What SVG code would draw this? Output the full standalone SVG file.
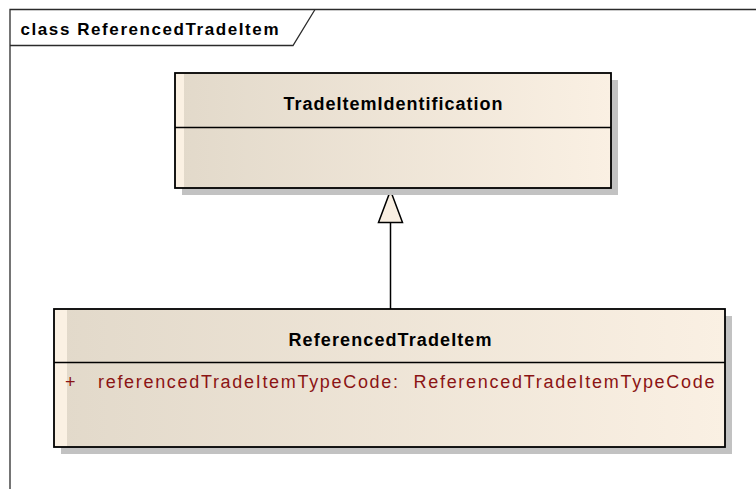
<svg xmlns="http://www.w3.org/2000/svg" width="756" height="489" viewBox="0 0 756 489">
  <defs>
    <linearGradient id="fillGrad" x1="0" y1="0" x2="1" y2="0">
      <stop offset="0" stop-color="#E2D9CA"/>
      <stop offset="1" stop-color="#FAF0E3"/>
    </linearGradient>
  </defs>
  <style>
    .frame { fill: none; stroke: #2b2b2b; stroke-width: 1.3; }
    .shadow { fill: #C2C2C2; }
    .box { fill: url(#fillGrad); }
    .strip { fill: #FBF1E3; }
    .outline { fill: none; stroke: #000; stroke-width: 1.8; }
    .sep { stroke: #000; stroke-width: 1.5; }
    .name { font-family: "Liberation Sans", Arial, sans-serif; font-weight: bold; font-size: 18px; fill: #000; }
    .attr { font-family: "Liberation Sans", Arial, sans-serif; font-size: 18px; fill: #8B1414; }
    .title { font-family: "Liberation Sans", Arial, sans-serif; font-weight: bold; font-size: 17px; fill: #000; }
    .edge { fill: none; stroke: #000; stroke-width: 1.5; }
    .head { fill: #F9EFE2; stroke: #000; stroke-width: 1.5; stroke-linejoin: miter; }
  </style>
  <rect width="756" height="489" fill="#fff"/>

  <g id="frame">
    <path class="frame" d="M10 495 L10 9.5 L760 9.5"/>
    <path class="frame" d="M10 45.5 L293 45.5 L315 9.5"/>
    <text class="title" x="20.5" y="35" textLength="258" lengthAdjust="spacing">class ReferencedTradeItem</text>
  </g>

  <g id="connectors">
    <path class="edge" d="M390.5 309 L390.5 222.5"/>
    <polygon class="head" points="390.5,190.5 402.5,222.5 378.5,222.5"/>
  </g>

  <g id="TradeItemIdentification">
    <rect class="shadow" x="182" y="80" width="436" height="115"/>
    <rect class="box" x="175" y="73" width="436" height="115"/>
    <rect class="strip" x="175.5" y="73.5" width="8.5" height="114"/>
    <rect class="outline" x="175" y="73" width="436" height="115"/>
    <line class="sep" x1="175" y1="127.5" x2="611" y2="127.5"/>
    <text class="name" x="393" y="109.5" text-anchor="middle" textLength="219" lengthAdjust="spacing">TradeItemIdentification</text>
  </g>

  <g id="ReferencedTradeItem">
    <rect class="shadow" x="61" y="316" width="671" height="138"/>
    <rect class="box" x="54" y="309" width="671" height="138"/>
    <rect class="strip" x="54.5" y="309.5" width="12.5" height="137"/>
    <rect class="outline" x="54" y="309" width="671" height="138"/>
    <line class="sep" x1="54" y1="362.5" x2="725" y2="362.5"/>
    <text class="name" x="390" y="345.5" text-anchor="middle" textLength="203" lengthAdjust="spacing">ReferencedTradeItem</text>
    <text class="attr" x="65" y="388">+</text>
    <text class="attr" x="98" y="388" textLength="300" lengthAdjust="spacing">referencedTradeItemTypeCode:</text>
    <text class="attr" x="413.5" y="388" textLength="301" lengthAdjust="spacing">ReferencedTradeItemTypeCode</text>
  </g>
</svg>
